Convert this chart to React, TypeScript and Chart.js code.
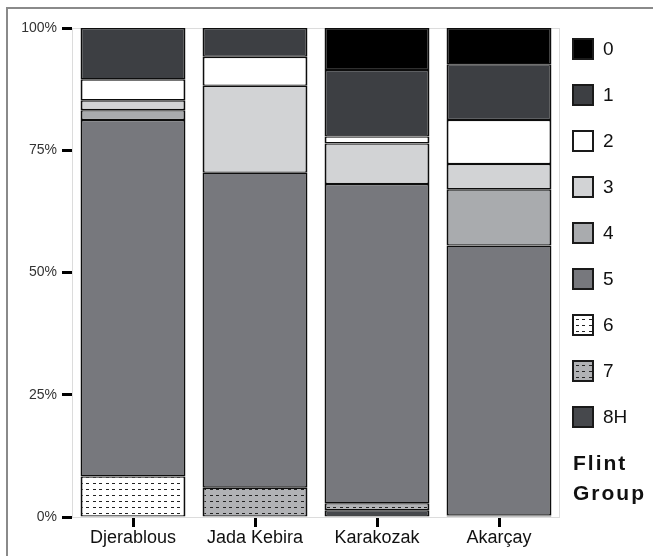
import React, { useEffect, useMemo, useRef } from "react";
import { Chart, registerables } from "chart.js";

Chart.register(...registerables);

// ---- data ----
const categories = ["Djerablous", "Jada Kebira", "Karakozak", "Akarçay"];
const groupNames = ["0", "1", "2", "3", "4", "5", "6", "7", "8H"];
const group0 = [null, null, 8.6, 7.4];
const group1 = [10.5, 5.9, 13.6, 11.4];
const group2 = [4.3, 5.9, 1.4, 9.0];
const group3 = [2.0, 17.8, 8.3, 5.2];
const group4 = [2.0, null, null, 11.5];
const group5 = [72.9, 64.4, 65.3, 55.2];
const group6 = [8.3, null, null, null];
const group7 = [null, 6.0, 1.4, null];
const group8H = [null, null, 1.4, 0.3];
const yTickValues = [0, 25, 50, 75, 100];
const legendTitle = ["Flint", "Group"];

const FONT = "'Liberation Sans', Arial, Helvetica, sans-serif";

function makePatternCanvas(bg: string): HTMLCanvasElement {
  const c = document.createElement("canvas");
  c.width = 13;
  c.height = 6;
  const g = c.getContext("2d")!;
  g.fillStyle = bg;
  g.fillRect(0, 0, 13, 6);
  g.fillStyle = "#222222";
  g.fillRect(2, 3, 3, 1);
  g.fillRect(8, 3, 3, 1);
  return c;
}

const plotFrame = {
  id: "plotFrame",
  beforeDatasetsDraw(chart: any) {
    const { ctx, chartArea: a } = chart;
    ctx.save();
    ctx.strokeStyle = "#dcdcdc";
    ctx.lineWidth = 1;
    ctx.strokeRect(a.left + 0.5, a.top + 0.5, a.right - a.left - 1, a.bottom - a.top);
    ctx.restore();
  },
};

export default function App() {
  const ref = useRef<HTMLCanvasElement>(null);

  const patterns = useMemo(() => {
    const w = makePatternCanvas("#ffffff");
    const g = makePatternCanvas("#b1b2b5");
    return { w, g, wUrl: w.toDataURL(), gUrl: g.toDataURL() };
  }, []);

  const fills: Record<string, any> = {
    "0": "#000000",
    "1": "#3d3f43",
    "2": "#ffffff",
    "3": "#d2d3d5",
    "4": "#a9abae",
    "5": "#77787d",
    "6": "pattern-w",
    "7": "pattern-g",
    "8H": "#46484c",
  };

  useEffect(() => {
    const ctx = ref.current!.getContext("2d")!;
    const pw = ctx.createPattern(patterns.w, "repeat");
    const pg = ctx.createPattern(patterns.g, "repeat");
    const bg = (k: string) => (k === "6" ? pw : k === "7" ? pg : fills[k]);
    const series: Record<string, (number | null)[]> = {
      "0": group0,
      "1": group1,
      "2": group2,
      "3": group3,
      "4": group4,
      "5": group5,
      "6": group6,
      "7": group7,
      "8H": group8H,
    };
    const stackOrder = [...groupNames].reverse();
    const chart = new Chart(ref.current!, {
      type: "bar",
      data: {
        labels: categories,
        datasets: stackOrder.map((k) => ({
          label: k,
          data: series[k],
          backgroundColor: bg(k),
          borderColor: "#0d0d0d",
          borderWidth: { left: 2, right: 2, top: 1.3, bottom: 1.3 },
          borderSkipped: false,
          barPercentage: 0.86,
          categoryPercentage: 1,
        })) as any,
      },
      options: {
        responsive: false,
        animation: false,
        layout: { padding: { left: 0, right: 93, top: 28, bottom: 0 } },
        plugins: { legend: { display: false }, tooltip: { enabled: false } },
        scales: {
          x: {
            stacked: true,
            offset: true,
            border: { display: false },
            grid: {
              offset: false,
              drawOnChartArea: false,
              drawTicks: true,
              tickLength: 10,
              tickWidth: 3,
              tickColor: "#000",
            },
            ticks: {
              color: "#111",
              font: { family: FONT, size: 18 },
              padding: 0,
              maxRotation: 0,
            },
            afterFit: (s: any) => {
              s.height = 39;
            },
          },
          y: {
            stacked: true,
            min: 0,
            max: 100,
            border: { display: false },
            afterBuildTicks: (s: any) => {
              s.ticks = yTickValues.map((v) => ({ value: v }));
            },
            grid: {
              drawOnChartArea: false,
              drawTicks: true,
              tickLength: 10,
              tickWidth: 3,
              tickColor: "#000",
            },
            ticks: {
              color: "#333",
              font: { family: FONT, size: 14 },
              padding: 5,
              callback: (v: any) => v + "%",
            },
            afterFit: (s: any) => {
              s.width = 72;
            },
          },
        },
      } as any,
      plugins: [plotFrame],
    });
    return () => chart.destroy();
  }, []);

  const boxStyle = (k: string): React.CSSProperties => {
    const base: React.CSSProperties = {
      width: 18,
      height: 18,
      border: "2px solid #1a1a1a",
      boxSizing: "content-box",
    };
    if (k === "6") return { ...base, backgroundImage: `url(${patterns.wUrl})` };
    if (k === "7") return { ...base, backgroundImage: `url(${patterns.gUrl})` };
    return { ...base, background: fills[k] };
  };

  return (
    <div
      style={{
        position: "fixed",
        left: 0,
        top: 0,
        width: 653,
        height: 556,
        overflow: "hidden",
        background: "#fff",
        fontFamily: FONT,
      }}
    >
      <div
        style={{
          position: "absolute",
          left: 6,
          top: 7,
          width: 700,
          height: 600,
          border: "2px solid #8a8a8a",
        }}
      />
      <canvas
        ref={ref}
        width={653}
        height={556}
        style={{ position: "absolute", left: 0, top: 0 }}
      />
      {groupNames.map((k, i) => (
        <div
          key={k}
          style={{
            position: "absolute",
            left: 572,
            top: 38 + i * 46,
            height: 22,
            display: "flex",
            alignItems: "center",
          }}
        >
          <div style={boxStyle(k)} />
          <span style={{ marginLeft: 9, fontSize: 19, color: "#111", lineHeight: "22px" }}>{k}</span>
        </div>
      ))}
      <div
        style={{
          position: "absolute",
          left: 573,
          top: 448,
          fontSize: 21,
          fontWeight: "bold",
          lineHeight: "30px",
          letterSpacing: 2,
          color: "#111",
        }}
      >
        {legendTitle.map((t) => (
          <div key={t}>{t}</div>
        ))}
      </div>
    </div>
  );
}
